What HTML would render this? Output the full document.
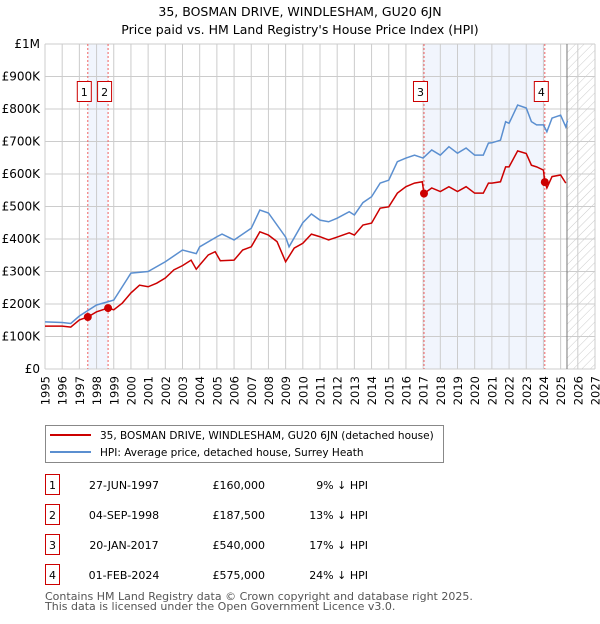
<!DOCTYPE html>
<html><head><meta charset="utf-8"><style>
body{margin:0;background:#fff;font-family:"DejaVu Sans","Liberation Sans",sans-serif;}
svg text{font-family:"DejaVu Sans","Liberation Sans",sans-serif;}
</style></head><body>
<svg id="c" width="600" height="620" xmlns="http://www.w3.org/2000/svg">
<defs><pattern id="hatch" width="6" height="6" patternUnits="userSpaceOnUse" patternTransform="rotate(45)"><line x1="0" y1="0" x2="0" y2="6" stroke="#ccc" stroke-width="1"/></pattern></defs>
<text x="300" y="16" text-anchor="middle" font-size="12.5">35, BOSMAN DRIVE, WINDLESHAM, GU20 6JN</text>
<text x="300" y="34" text-anchor="middle" font-size="12.5">Price paid vs. HM Land Registry's House Price Index (HPI)</text>
<g id="plot"></g>
<g>
<rect x="45.5" y="425.5" width="398" height="37" fill="#fff" stroke="#888"/>
<line x1="50" y1="435" x2="91" y2="435" stroke="#cc0000" stroke-width="2"/>
<text x="100" y="439" font-size="10.5">35, BOSMAN DRIVE, WINDLESHAM, GU20 6JN (detached house)</text>
<line x1="50" y1="452" x2="91" y2="452" stroke="#5b8fd0" stroke-width="2"/>
<text x="100" y="456" font-size="10.5">HPI: Average price, detached house, Surrey Heath</text>
</g>
<g id="tbl" font-size="11"></g>
<text x="45" y="600" font-size="11" fill="#555">Contains HM Land Registry data © Crown copyright and database right 2025.</text>
<text x="45" y="610" font-size="11" fill="#555">This data is licensed under the Open Government Licence v3.0.</text>
</svg>
<script>
const hpiYears=[1995,1996,1996.5,1997,1998,1999,2000,2001,2002,2003,2003.8,2004,2005,2005.3,2006,2007,2007.5,2008,2009,2009.2,2010,2010.5,2011,2011.5,2012,2012.7,2013,2013.5,2014,2014.5,2015,2015.5,2016,2016.5,2017,2017.5,2018,2018.5,2019,2019.5,2020,2020.5,2020.8,2021,2021.5,2021.8,2022,2022.5,2023,2023.3,2023.6,2024,2024.2,2024.5,2025,2025.3,2025.4];
const hpiValues=[145,143,140,163,197,212,295,300,330,366,355,376,407,415,397,433,489,480,406,376,450,477,458,453,464,484,474,512,530,572,581,638,649,658,649,674,658,684,664,680,658,658,695,696,704,761,756,812,803,761,751,751,730,772,781,745,764];
const redYears=[1995,1996,1996.5,1997,1997.49,1998,1998.67,1999,1999.5,2000,2000.5,2001,2001.5,2002,2002.5,2003,2003.5,2003.8,2004,2004.5,2004.9,2005.2,2006,2006.5,2007,2007.5,2008,2008.5,2009,2009.5,2010,2010.5,2011,2011.5,2012,2012.7,2013,2013.5,2014,2014.5,2015,2015.5,2016,2016.5,2016.95,2017.05,2017.5,2018,2018.5,2019,2019.5,2020,2020.5,2020.8,2021,2021.5,2021.8,2022,2022.5,2023,2023.3,2023.6,2024,2024.08,2024.2,2024.5,2025,2025.3];
const redValues=[132,132,129,151,160,176,187.5,182,203,234,258,253,264,280,305,318,335,307,320,351,361,333,335,366,376,422,412,392,330,372,387,415,407,397,406,419,412,443,449,495,499,541,561,572,576,540,557,546,561,546,561,541,541,572,572,576,622,622,671,663,627,622,612,575,557,592,597,572];
const saleYears=[1997.49,1998.67,2017.05,2024.08];
const salePrices=[160,187.5,540,575];
const saleLabels=["1","2","3","4"];
const saleDates=["27-JUN-1997","04-SEP-1998","20-JAN-2017","01-FEB-2024"];
const salePriceText=["£160,000","£187,500","£540,000","£575,000"];
const saleDiff=["9% ↓ HPI","13% ↓ HPI","17% ↓ HPI","24% ↓ HPI"];
const yTicks=[0,100,200,300,400,500,600,700,800,900,1000];
const yTickLabels=["£0","£100K","£200K","£300K","£400K","£500K","£600K","£700K","£800K","£900K","£1M"];
const xTicks=[1995,1996,1997,1998,1999,2000,2001,2002,2003,2004,2005,2006,2007,2008,2009,2010,2011,2012,2013,2014,2015,2016,2017,2018,2019,2020,2021,2022,2023,2024,2025,2026,2027];
const x0=45,x1=595,y0=369,y1=44;
const X=y=>x0+(y-1995)/(2027-1995)*(x1-x0);
const Y=v=>y0-(v/1000)*(y0-y1);
const NS="http://www.w3.org/2000/svg";
const plot=document.getElementById('plot');
function mk(tag,attrs,parent){const e=document.createElementNS(NS,tag);for(const k in attrs)e.setAttribute(k,attrs[k]);(parent||plot).appendChild(e);return e;}
let e;
e=mk('rect',{x:X(saleYears[0]),y:y1,width:X(saleYears[1])-X(saleYears[0]),height:y0-y1,fill:'#eef3fc',opacity:0.8});


e=mk('rect',{x:X(saleYears[2]),y:y1,width:X(saleYears[3])-X(saleYears[2]),height:y0-y1,fill:'#eef3fc',opacity:0.8});


e=mk('rect',{x:X(2025.37),y:y1,width:x1-X(2025.37),height:y0-y1,fill:'url(#hatch)'});


yTicks.forEach((t,i)=>{
 e=mk('line',{x1:x0,x2:x1,y1:Y(t),y2:Y(t),stroke:'#ccc'});
 
 
 e=mk('text',{x:40,y:Y(t)+4,'text-anchor':'end','font-size':12});
 e.textContent=yTickLabels[i];
 
 
});
xTicks.forEach(t=>{
 e=mk('line',{x1:X(t),x2:X(t),y1:y1,y2:y0,stroke:'#ccc'});
 
 
 e=mk('text',{x:0,y:0,'text-anchor':'end','font-size':11.5,transform:'translate('+(X(t)+4.5)+',376) rotate(-90)'});
 e.textContent=t;
 
 
});
e=mk('line',{x1:X(2025.37),x2:X(2025.37),y1:y1,y2:y0,stroke:'#777'});


saleYears.forEach((s,i)=>{
 e=mk('line',{x1:X(s),x2:X(s),y1:y1,y2:y0,stroke:'#f06060','stroke-dasharray':'2,2'});
 
 
 e=mk('rect',{x:X(s)-10.5,y:81.5,width:14,height:20,fill:'#fff',stroke:'#cc0000'});
 
 
 e=mk('text',{x:X(s)-3.5,y:96,'text-anchor':'middle','font-size':11});
 e.textContent=saleLabels[i];
 
 
});
e=mk('polyline',{points:hpiYears.map((y,i)=>X(y)+','+Y(hpiValues[i])).join(' '),fill:'none',stroke:'#5b8fd0','stroke-width':1.5});


e=mk('polyline',{points:redYears.map((y,i)=>X(y)+','+Y(redValues[i])).join(' '),fill:'none',stroke:'#cc0000','stroke-width':1.5});


saleYears.forEach((s,i)=>{
 e=mk('circle',{cx:X(s),cy:Y(salePrices[i]),r:4,fill:'#cc0000'});
 
 
});
const tbl=document.getElementById('tbl');
saleDates.forEach((d,i)=>{
 const cy=485+i*30;
 e=mk('rect',{x:45.5,y:cy-10.5,width:14,height:20,fill:'#fff',stroke:'#cc0000'},tbl);
 
 
 e=mk('text',{x:52.5,y:cy+4,'text-anchor':'middle'},tbl);e.textContent=saleLabels[i];
 
 
 e=mk('text',{x:124,y:cy+4,'text-anchor':'middle'},tbl);e.textContent=d;
 
 
 e=mk('text',{x:265,y:cy+4,'text-anchor':'end'},tbl);e.textContent=salePriceText[i];
 
 
 e=mk('text',{x:368,y:cy+4,'text-anchor':'end'},tbl);e.textContent=saleDiff[i];
 
 
});
</script>
</body></html>
